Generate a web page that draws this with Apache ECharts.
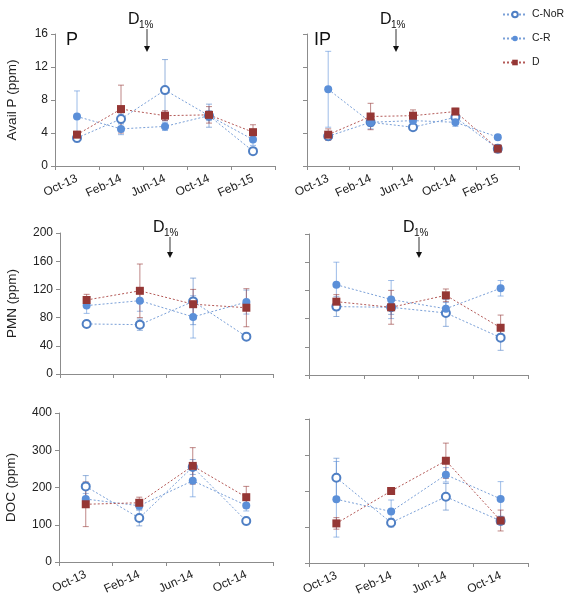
<!DOCTYPE html>
<html>
<head>
<meta charset="utf-8">
<script src="https://cdn.jsdelivr.net/npm/echarts@6/dist/echarts.min.js"></script>
<style>html,body{margin:0;padding:0;background:#fff;}#c{width:567px;height:600px;}</style>
</head>
<body>
<div id="c"></div>
<script>
// ---- categories ----
const months5 = ['Oct-13', 'Feb-14', 'Jun-14', 'Oct-14', 'Feb-15'];
const months4 = ['Oct-13', 'Feb-14', 'Jun-14', 'Oct-14'];
const seriesNames = ['C-NoR', 'C-R', 'D'];

// ---- Avail P, panel P ----
const pNoR = [3.4, 5.7, 9.2, 6.1, 1.8];
const pNoRErr = [0.3, 0.6, 3.7, 1.4, 0.4];
const pR = [6.0, 4.5, 4.8, 6.1, 3.2];
const pRErr = [3.1, 0.7, 0.5, 0.6, 0.7];
const pD = [3.8, 6.9, 6.1, 6.2, 4.1];
const pDErr = [0.4, 2.9, 0.6, 1.0, 0.9];

// ---- Avail P, panel IP ----
const ipNoR = [3.6, 5.3, 4.7, 5.9, 2.1];
const ipNoRErr = [0.4, 0.5, 0.3, 0.6, 0.3];
const ipR = [9.3, 5.3, 5.5, 5.3, 3.5];
const ipRErr = [4.6, 0.8, 0.4, 0.5, 0.3];
const ipD = [3.8, 6.0, 6.1, 6.6, 2.1];
const ipDErr = [0.7, 1.6, 0.7, 0.4, 0.5];

// ---- PMN, left ----
const pmnNoR = [71, 70, 103, 53];
const pmnNoRErr = [4, 8, 33, 4];
const pmnR = [97, 104, 81, 102];
const pmnRErr = [11, 15, 30, 17];
const pmnD = [105, 118, 99, 94];
const pmnDErr = [8, 38, 21, 27];

// ---- PMN, right ----
const pmn2NoR = [97, 96, 88, 53];
const pmn2NoRErr = [14, 10, 19, 18];
const pmn2R = [128, 107, 94, 123];
const pmn2RErr = [32, 27, 9, 11];
const pmn2D = [104, 96, 113, 67];
const pmn2DErr = [10, 24, 9, 18];

// ---- DOC, left ----
const docNoR = [203, 118, 255, 110];
const docNoRErr = [29, 21, 20, 10];
const docR = [169, 151, 218, 152];
const docRErr = [15, 10, 43, 15];
const docD = [155, 159, 258, 174];
const docDErr = [60, 15, 49, 29];

// ---- DOC, right ----
const doc2NoR = [237, 112, 184, 117];
const doc2NoRErr = [54, 12, 37, 10];
const doc2R = [177, 143, 245, 178];
const doc2RErr = [105, 32, 20, 48];
const doc2D = [110, 200, 284, 118];
const doc2DErr = [16, 8, 49, 29];

// ---- axis ticks ----
const yP = {min: 0, max: 16, interval: 4};
const yPMN = {min: 0, max: 200, interval: 40};
const yDOC = {min: 0, max: 400, interval: 100};

const FONT = 'Liberation Sans, Arial, sans-serif';
const colNoR = '#4f7fc4';
const colR = '#5b8fd8';
const colD = '#953735';

const grids = [
  {left: 55, top: 34, width: 220, height: 132},
  {left: 307, top: 34, width: 212, height: 132},
  {left: 60, top: 233, width: 213, height: 141},
  {left: 309, top: 234, width: 219, height: 141},
  {left: 59, top: 413, width: 214, height: 149},
  {left: 309, top: 419, width: 219, height: 144}
];

const panels = [
  {cats: months5, y: yP, name: 'Avail P (ppm)', gap: 36, labels: true, yLabels: true, data: [[pNoR, pNoRErr], [pR, pRErr], [pD, pDErr]]},
  {cats: months5, y: yP, name: '', gap: 0, labels: true, yLabels: false, data: [[ipNoR, ipNoRErr], [ipR, ipRErr], [ipD, ipDErr]]},
  {cats: months4, y: yPMN, name: 'PMN (ppm)', gap: 41, labels: false, yLabels: true, data: [[pmnNoR, pmnNoRErr], [pmnR, pmnRErr], [pmnD, pmnDErr]]},
  {cats: months4, y: yPMN, name: '', gap: 0, labels: false, yLabels: false, data: [[pmn2NoR, pmn2NoRErr], [pmn2R, pmn2RErr], [pmn2D, pmn2DErr]]},
  {cats: months4, y: yDOC, name: 'DOC (ppm)', gap: 41, labels: true, yLabels: true, data: [[docNoR, docNoRErr], [docR, docRErr], [docD, docDErr]]},
  {cats: months4, y: yDOC, name: '', gap: 0, labels: true, yLabels: false, data: [[doc2NoR, doc2NoRErr], [doc2R, doc2RErr], [doc2D, doc2DErr]]}
];

const axisLineStyle = {color: '#8c8c8c', width: 1};
const xAxes = [], yAxes = [], series = [];

const styles = [
  {name: 'C-NoR', symbol: 'emptyCircle', size: 8, color: colNoR, line: '#7aa0d8'},
  {name: 'C-R', symbol: 'circle', size: 8, color: colR, line: '#7aa0d8'},
  {name: 'D', symbol: 'rect', size: 8, color: colD, line: '#b45a58'}
];

function errRender(params, api) {
  const x = api.value(0), v = api.value(1), e = api.value(2);
  const top = api.coord([x, v + e]);
  const bot = api.coord([x, v - e]);
  const st = {stroke: api.visual('color'), lineWidth: 1, opacity: 0.6};
  const w = 3;
  return {
    type: 'group',
    children: [
      {type: 'line', shape: {x1: top[0], y1: top[1], x2: bot[0], y2: bot[1]}, style: st},
      {type: 'line', shape: {x1: top[0] - w, y1: top[1], x2: top[0] + w, y2: top[1]}, style: st},
      {type: 'line', shape: {x1: bot[0] - w, y1: bot[1], x2: bot[0] + w, y2: bot[1]}, style: st}
    ]
  };
}

panels.forEach((p, i) => {
  xAxes.push({
    type: 'category', gridIndex: i, data: p.cats, boundaryGap: true,
    axisLine: {lineStyle: axisLineStyle},
    axisTick: {show: true, length: 4, lineStyle: axisLineStyle},
    axisLabel: {show: p.labels, rotate: 25, margin: 12, fontSize: 12, color: '#222', fontFamily: FONT, interval: 0}
  });
  yAxes.push({
    type: 'value', gridIndex: i, min: p.y.min, max: p.y.max, interval: p.y.interval,
    name: p.name, nameLocation: 'middle', nameRotate: 90, nameGap: p.gap,
    nameTextStyle: {fontSize: 13.5, color: '#222', fontFamily: FONT},
    splitLine: {show: false},
    axisLine: {show: true, lineStyle: axisLineStyle},
    axisTick: {show: true, length: 4, lineStyle: axisLineStyle},
    axisLabel: {show: p.yLabels, fontSize: 12, color: '#222', fontFamily: FONT, margin: 7}
  });
  p.data.forEach((d, k) => {
    const s = styles[k];
    series.push({
      type: 'line', name: s.name, xAxisIndex: i, yAxisIndex: i, z: 3,
      data: d[0], symbol: s.symbol, symbolSize: s.size, showAllSymbol: true,
      lineStyle: {type: [2, 2], width: 1, color: s.line},
      itemStyle: {color: s.color, borderColor: s.color, borderWidth: s.symbol === 'emptyCircle' ? 1.5 : 0},
      emphasis: {disabled: true}, animation: false
    });
  });
  p.data.forEach((d, k) => {
    const s = styles[k];
    series.push({
      type: 'custom', name: s.name + ' error', xAxisIndex: i, yAxisIndex: i, z: 1,
      renderItem: errRender, silent: true,
      data: d[0].map((v, j) => [j, v, d[1][j]]),
      encode: {x: 0, y: 1}, itemStyle: {color: s.color}
    });
  });
});

function dLabel(x, y, ax, ay1, ay2) {
  return [
    {type: 'text', left: x, top: y, style: {text: 'D', fontSize: 16, fill: '#111', fontFamily: FONT}},
    {type: 'text', left: x + 11, top: y + 8, style: {text: '1%', fontSize: 10, fill: '#111', fontFamily: FONT}},
    {type: 'line', shape: {x1: ax, y1: ay1, x2: ax, y2: ay2 - 5}, style: {stroke: '#333', lineWidth: 1}},
    {type: 'polygon', shape: {points: [[ax - 3, ay2 - 6], [ax + 3, ay2 - 6], [ax, ay2]]}, style: {fill: '#111'}}
  ];
}

const graphic = [].concat(
  dLabel(128, 12, 147, 29, 52),
  dLabel(380, 12, 396, 29, 52),
  dLabel(153, 220, 170, 237, 258),
  dLabel(403, 220, 419, 237, 258),
  [
    {type: 'text', left: 66, top: 31, style: {text: 'P', fontSize: 18, fill: '#111', fontFamily: FONT}},
    {type: 'text', left: 314, top: 31, style: {text: 'IP', fontSize: 18, fill: '#111', fontFamily: FONT}}
  ]
);

const chart = echarts.init(document.getElementById('c'), null, {renderer: 'canvas'});
chart.setOption({
  animation: false,
  backgroundColor: '#fff',
  grid: grids,
  xAxis: xAxes,
  yAxis: yAxes,
  series: series,
  graphic: graphic,
  legend: {
    data: seriesNames, orient: 'vertical', left: 502, top: 8, itemGap: 11, padding: 0,
    itemWidth: 24, itemHeight: 7, selectedMode: false,
    textStyle: {fontSize: 10.5, color: '#222', fontFamily: FONT, lineHeight: 13}
  }
});
</script>
</body>
</html>
